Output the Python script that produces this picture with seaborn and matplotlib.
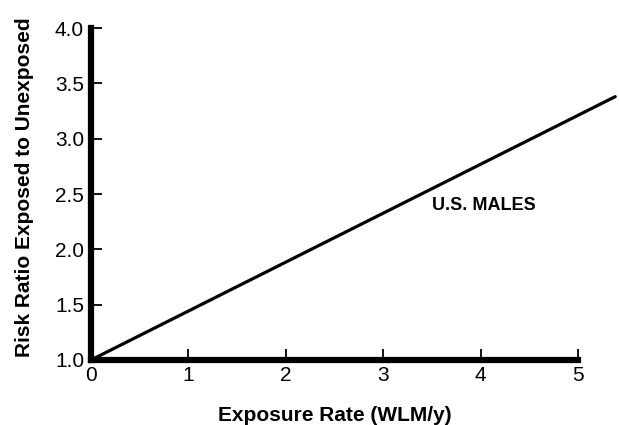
import matplotlib
matplotlib.use("Agg")
import matplotlib.pyplot as plt
import seaborn as sns
import pandas as pd

exposure_rate = [0.0, 5.38]
risk_ratio = [1.0, 3.38]
x_ticks = [0, 1, 2, 3, 4, 5]
y_ticks = [1.0, 1.5, 2.0, 2.5, 3.0, 3.5, 4.0]
series_label = "U.S. MALES"

sns.set_theme(style="white")
plt.rcParams['font.family'] = ['Liberation Sans', 'DejaVu Sans']

df = pd.DataFrame({"x": exposure_rate, "y": risk_ratio})

fig = plt.figure(figsize=(6.19, 4.25), dpi=100)
ax = fig.add_axes([0.147, 0.153, 0.85, 0.781])
sns.lineplot(data=df, x="x", y="y", ax=ax, color="black", linewidth=2.3, clip_on=False)

ax.set_xlim(0, 5.4)
ax.set_ylim(1.0, 4.0)
ax.set_xticks(x_ticks)
ax.set_xticklabels([str(t) for t in x_ticks])
ax.set_yticks(y_ticks)
ax.set_yticklabels([f"{t:.1f}" for t in y_ticks])

for s in ["top", "right"]:
    ax.spines[s].set_visible(False)
for s in ["left", "bottom"]:
    ax.spines[s].set_linewidth(4.5)
    ax.spines[s].set_color("black")
    ax.spines[s].set_capstyle("projecting")
ax.spines["bottom"].set_bounds(0, 5)
ax.spines["left"].set_bounds(1.0, 4.0)

ax.tick_params(axis="both", direction="in", length=8, width=1.3, color="black",
               labelsize=15, labelcolor="black", bottom=True, left=True)
ax.tick_params(axis="x", pad=4)
ax.tick_params(axis="y", pad=5)

ax.set_xlabel("Exposure Rate (WLM/y)", fontsize=15, fontweight="bold", color="black")
ax.set_ylabel("Risk Ratio Exposed to Unexposed", fontsize=15, fontweight="bold", color="black")
ax.xaxis.set_label_coords(2.5 / 5.4, -0.14)
ax.yaxis.set_label_coords(-0.108, 0.52)

ax.text(3.5, 2.4, series_label, fontsize=13, fontweight="bold", color="black",
        ha="left", va="center")

fig.savefig("out.png", dpi=100, facecolor="white")
